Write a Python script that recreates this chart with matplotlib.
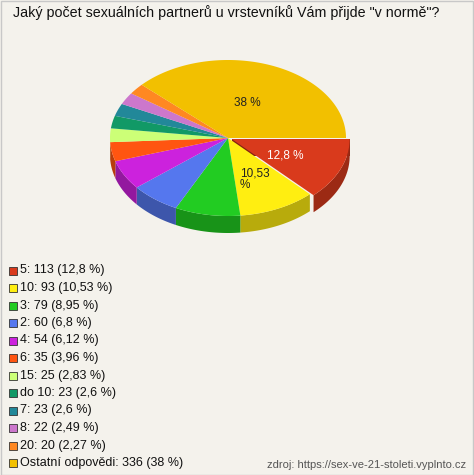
import numpy as np
import matplotlib
matplotlib.use("Agg")
import matplotlib.pyplot as plt
from matplotlib.patches import Polygon, Rectangle
from matplotlib.colors import to_rgb

plt.rcParams['font.family'] = ['Liberation Sans', 'DejaVu Sans']

labels = ["5", "10", "3", "2", "4", "6", "15", "do 10", "7", "8", "20", "Ostatní odpovědi"]
counts = [113, 93, 79, 60, 54, 35, 25, 23, 23, 22, 20, 336]
pcts = ["12,8", "10,53", "8,95", "6,8", "6,12", "3,96", "2,83", "2,6", "2,6", "2,49", "2,27", "38"]
colors = ["#d93a1c", "#ffee11", "#22cc22", "#5577ee", "#cc22dd", "#ff5511",
          "#ccff77", "#119966", "#228899", "#cc77cc", "#ff8822", "#f2c000"]
title = 'Jaký počet sexuálních partnerů u vrstevníků Vám přijde "v normě"?'
source = "zdroj: https://sex-ve-21-stoleti.vyplnto.cz"

W, H = 474, 475
fig = plt.figure(figsize=(W/100, H/100), dpi=100)
fig.patch.set_facecolor("#f4f2ec")
ax = fig.add_axes([0, 0, 1, 1])
ax.set_xlim(0, W); ax.set_ylim(H, 0); ax.axis("off")
ax.add_patch(Rectangle((0.5, 0.5), W-1, H-1, fill=False, ec="#c8c8c8", lw=1))

cx, cy, rx, ry, depth = 228, 138, 118, 78, 17
total = sum(counts)
fr = np.array(counts) / total
ends = -np.cumsum(fr) * 2*np.pi
starts = np.concatenate([[0], ends[:-1]])

def dark(c, f=0.72):
    r, g, b = to_rgb(c); return (r*f, g*f, b*f)

slices = []
for i in range(len(counts)):
    mid = (starts[i] + ends[i]) / 2
    off = 4 if i == 0 else 0
    ox, oy = cx + off*np.cos(mid), cy - off*ry/rx*np.sin(mid)
    slices.append((starts[i], ends[i], ox, oy))

for i, (a0, a1, ox, oy) in enumerate(slices):
    t = np.linspace(a0, a1, 200)
    t = t[np.sin(t) <= 0.0001]
    if len(t) < 2: continue
    x = ox + rx*np.cos(t); y = oy - ry*np.sin(t)
    pts = np.column_stack([np.concatenate([x, x[::-1]]), np.concatenate([y, y[::-1]+depth])])
    ax.add_patch(Polygon(pts, closed=True, fc=dark(colors[i]), ec="none", zorder=2))
for i, (a0, a1, ox, oy) in enumerate(slices):
    t = np.linspace(a0, a1, 200)
    pts = np.column_stack([np.concatenate([[ox], ox + rx*np.cos(t)]),
                           np.concatenate([[oy], oy - ry*np.sin(t)])])
    ax.add_patch(Polygon(pts, closed=True, fc=colors[i], ec="none", zorder=3))
ax.add_patch(Polygon([[slices[0][2], slices[0][3]], [slices[0][2]+rx, slices[0][3]],
                      [slices[0][2]+rx, slices[0][3]+depth], [slices[0][2], slices[0][3]+depth]],
                     fc=dark(colors[0], 0.6), ec="none", zorder=1.5))

ax.text(247, 103, "38 %", fontsize=8.5, ha="center", va="center", color="#222222", zorder=5)
ax.text(285, 155, "12,8 %", fontsize=8.5, ha="center", va="center", color="white", zorder=5)
ax.text(240, 179, "10,53\n%", fontsize=8.5, ha="left", va="center", color="#222222", zorder=5, linespacing=1.0)

ax.text(13, 13, title, fontsize=10.3, ha="left", va="center", color="#111111")

y0, dy = 270.5, 17.5
for i in range(len(counts)):
    y = y0 + i*dy
    ax.add_patch(Rectangle((9, y-4), 8, 8, fc=colors[i], ec="#333333", lw=0.6))
    ax.text(20, y, f"{labels[i]}: {counts[i]} ({pcts[i]} %)", fontsize=9, ha="left", va="center", color="#111111")

ax.text(466, 465, source, fontsize=8, ha="right", va="center", color="#555555")
fig.savefig("out.png", dpi=100, facecolor=fig.get_facecolor())
